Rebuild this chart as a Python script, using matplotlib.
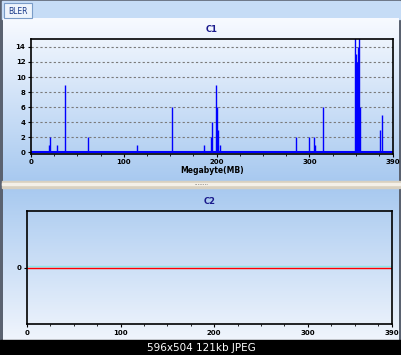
import numpy as np
import matplotlib
matplotlib.use('Agg')
import matplotlib.pyplot as plt
from matplotlib.patches import Rectangle

# C1 spikes (BLER vs Megabyte)
mb = [19, 20, 28, 37, 61, 114, 152, 186, 194, 195, 199, 200, 202, 204,
      285, 300, 305, 306, 315, 349, 350, 351, 352, 353, 354, 376, 378]
bler = [1, 2, 1, 9, 2, 1, 6, 1, 2, 4, 9, 6, 3, 1,
        2, 2, 2, 1, 6, 16, 13, 12, 14, 16, 6, 3, 5]
# C2 series (flat zero)
c2_x = [0, 390]
c2_y = [0, 0]
x_ticks = [0, 100, 200, 300, 390]
c1_yticks = [0, 2, 4, 6, 8, 10, 12, 14]

W, H = 402, 355
fig = plt.figure(figsize=(W / 100, H / 100), dpi=100)


def fx(px):
    return px / W


def fy(py):
    return 1 - py / H


# background panels
bg = fig.add_axes([0, 0, 1, 1], zorder=-10)
bg.set_xlim(0, W)
bg.set_ylim(H, 0)
bg.axis('off')
bg.add_patch(Rectangle((0, 0), W, H, color='#5a6270'))
bg.add_patch(Rectangle((2, 1), W - 4, 18, color='#c6dcf6'))
top = np.linspace(0, 1, 100)[:, None]
c_top = np.array([0.97, 0.98, 1.0])
c_bot = np.array([0.66, 0.79, 0.94])
grad1 = c_top + (c_bot - c_top) * top[..., None]
bg.imshow(np.repeat(grad1, 2, axis=1), extent=(3, W - 3, 181, 18), aspect='auto', zorder=1)
bg.add_patch(Rectangle((2, 181), W - 4, 7, color='#d8d0c0', zorder=2))
bg.add_patch(Rectangle((2, 183), W - 4, 2, color='#f4f0e8', zorder=3))
bg.text(201, 184.5, '········', ha='center', va='center', fontsize=4, color='#303030', zorder=4)
grad2 = c_bot + (np.array([0.94, 0.96, 0.99]) - c_bot) * top[..., None]
bg.imshow(np.repeat(grad2, 2, axis=1), extent=(3, W - 3, 340, 188), aspect='auto', zorder=1)
bg.add_patch(Rectangle((0, 340), W, 15, color='black', zorder=5))
bg.text(201, 348, '596x504 121kb JPEG', ha='center', va='center', fontsize=7.5,
        color='white', zorder=6)
# tab
bg.add_patch(Rectangle((4, 3), 28, 15, facecolor='#eef4fc', edgecolor='#7a9cc8', lw=0.8, zorder=6))
bg.text(18, 11, 'BLER', ha='center', va='center', fontsize=5.5, color='#1a3a8a', zorder=7)

tick_kw = dict(labelsize=5, width=0.8, length=2, pad=2)

# C1
ax1 = fig.add_axes([fx(31), fy(153.5), fx(362), (153.5 - 39) / H])
ax1.set_facecolor('none')
ax1.vlines(mb, 0, bler, color='#0000ff', lw=1)
ax1.axhline(0, color='#0000ff', lw=1.5)
ax1.set_xlim(0, 390)
ax1.set_ylim(-0.15, 15.05)
ax1.set_xticks(x_ticks)
ax1.set_xticks(np.arange(0, 391, 25), minor=True)
ax1.set_yticks(c1_yticks)
for y in c1_yticks[1:]:
    ax1.axhline(y, color='#7a7a7a', lw=0.8, ls=(0, (2, 2)), zorder=0)
ax1.tick_params(**tick_kw)
ax1.tick_params(which='minor', length=1.5, width=0.6)
for lab in ax1.get_xticklabels() + ax1.get_yticklabels():
    lab.set_fontweight('bold')
for s in ax1.spines.values():
    s.set_linewidth(1.2)
ax1.set_title('C1', fontsize=6, fontweight='bold', color='#1a1a8c', pad=5)
ax1.set_xlabel('Megabyte(MB)', fontsize=5.5, fontweight='bold', labelpad=1)

# C2
ax2 = fig.add_axes([fx(27), fy(324), fx(365), (324 - 211) / H])
ax2.set_facecolor('none')
ax2.plot(c2_x, [v + 0.02 for v in c2_y], color='#8ee8e8', lw=1)
ax2.plot(c2_x, c2_y, color='#ff0000', lw=1)
ax2.set_xlim(0, 390)
ax2.set_ylim(-1, 1)
ax2.set_xticks(x_ticks)
ax2.set_xticks(np.arange(0, 391, 25), minor=True)
ax2.set_yticks([0])
ax2.tick_params(**tick_kw)
ax2.tick_params(which='minor', length=1.5, width=0.6)
for lab in ax2.get_xticklabels() + ax2.get_yticklabels():
    lab.set_fontweight('bold')
for s in ax2.spines.values():
    s.set_linewidth(1.2)
ax2.set_title('C2', fontsize=6, fontweight='bold', color='#1a1a8c', pad=5)

fig.savefig('out.png', dpi=100)
